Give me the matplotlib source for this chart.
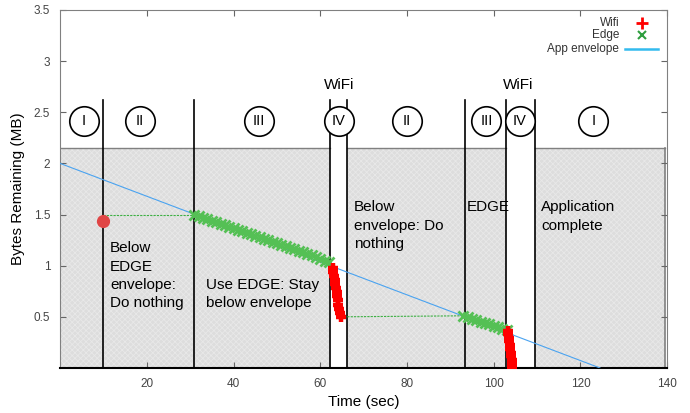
import matplotlib
matplotlib.use("Agg")
from matplotlib import pyplot as plt
from matplotlib.patches import Rectangle

plt.rcParams['font.family'] = ['Liberation Sans', 'DejaVu Sans']
plt.rcParams['hatch.color'] = '#e8e8e8'
plt.rcParams['hatch.linewidth'] = 0.6

# --- data ---
env_t = [0, 124.5]
env_mb = [2.0, 0.0]

edge1_t = [31, 32, 33, 34, 35, 36, 37, 38, 39, 40, 41, 42, 43, 44, 45, 46,
           47, 48, 49, 50, 51, 52, 53, 54, 55, 56, 57, 58, 59, 60, 61, 62]
edge1_mb = [1.50, 1.49, 1.47, 1.46, 1.44, 1.43, 1.41, 1.40, 1.38, 1.37, 1.35,
            1.34, 1.32, 1.31, 1.29, 1.28, 1.26, 1.25, 1.23, 1.22, 1.20, 1.19,
            1.17, 1.16, 1.14, 1.13, 1.11, 1.10, 1.08, 1.07, 1.05, 1.04]
edge2_t = [93, 94, 95, 96, 97, 98, 99, 100, 101, 102, 103]
edge2_mb = [0.51, 0.50, 0.48, 0.47, 0.45, 0.44, 0.43, 0.41, 0.40, 0.38, 0.37]

wifi1_t = [62.9, 63.0, 63.2, 63.3, 63.5, 63.6, 63.8, 63.9, 64.1, 64.2, 64.4, 64.5, 64.7]
wifi1_mb = [0.98, 0.94, 0.90, 0.86, 0.82, 0.78, 0.74, 0.70, 0.66, 0.62, 0.58, 0.54, 0.50]
wifi2_t = [103.3, 103.4, 103.5, 103.6, 103.7, 103.8, 103.9, 104.0, 104.1, 104.2, 104.3]
wifi2_mb = [0.36, 0.33, 0.29, 0.26, 0.22, 0.19, 0.15, 0.12, 0.08, 0.05, 0.01]

idle1_t = [10, 31]
idle1_mb = [1.5, 1.5]
idle2_t = [64.7, 93]
idle2_mb = [0.5, 0.51]

start_t = [10.0]
start_mb = [1.44]

zone_start = [0, 66.1, 109.4]
zone_end = [62.2, 102.8, 139.5]
zone_top = 2.15

phase_lines = [10, 31, 62.2, 66.1, 93.3, 102.8, 109.4]
line_top = 2.62

phase_x = [5.5, 18.4, 45.9, 64.3, 80, 98.3, 106, 123]
phase_names = ["I", "II", "III", "IV", "II", "III", "IV", "I"]
phase_y = 2.41

wifi_label_x = [64.3, 105.6]

notes = [
    (11.5, 1.24, "Below\nEDGE\nenvelope:\nDo nothing"),
    (33.6, 0.88, "Use EDGE: Stay\nbelow envelope"),
    (67.7, 1.64, "Below\nenvelope: Do\nnothing"),
    (93.8, 1.64, "EDGE"),
    (111.0, 1.64, "Application\ncomplete"),
]

fig = plt.figure(figsize=(6.9, 4.13), dpi=100)
ax = fig.add_axes([0.087, 0.109, 0.880, 0.867])

# shaded region
for s, e in zip(zone_start, zone_end):
    ax.add_patch(Rectangle((s, 0), e - s, zone_top, facecolor='#dddddd',
                           hatch='xxxxxx', lw=0, zorder=0.5))
    ax.plot([s, e], [zone_top, zone_top], color='#808080', lw=1, zorder=1)
ax.plot([zone_start[0]] * 2, [0, zone_top], color='#808080', lw=1.2, zorder=1)
ax.plot([zone_end[-1]] * 2, [0, zone_top], color='#808080', lw=1.2, zorder=1)

for x in phase_lines:
    ax.plot([x, x], [0, line_top], color='black', lw=1.2, zorder=2)

# data
ax.plot(env_t, env_mb, color='#4aa3f0', lw=0.8, zorder=3)
ax.plot(idle1_t, idle1_mb, color='#3cb043', lw=0.8, ls='--', dashes=(2, 1), zorder=3)
ax.plot(idle2_t, idle2_mb, color='#3cb043', lw=0.8, ls='--', dashes=(2, 1), zorder=3)
ax.plot(edge1_t, edge1_mb, ls='none', marker='x', ms=7, mew=2, color='#55c055', zorder=4)
ax.plot(edge2_t, edge2_mb, ls='none', marker='x', ms=7, mew=2, color='#55c055', zorder=4)
ax.plot(wifi1_t, wifi1_mb, ls='none', marker='+', ms=7, mew=3.2, color='#ff0000', zorder=5)
ax.plot(wifi2_t, wifi2_mb, ls='none', marker='+', ms=7, mew=3.2, color='#ff0000', zorder=5)
ax.plot(start_t, start_mb, ls='none', marker='o', ms=8.5, color='#e04545', zorder=5)

# phase circles
ax.scatter(phase_x, [phase_y] * len(phase_x), s=450, facecolor='white',
           edgecolor='black', lw=1.2, zorder=6)
for x, n in zip(phase_x, phase_names):
    ax.text(x, phase_y, n, ha='center', va='center', fontsize=10.5, zorder=7)
for x in wifi_label_x:
    ax.text(x, 2.77, "WiFi", ha='center', va='center', fontsize=11)

for x, y, t in notes:
    ax.text(x, y, t, ha='left', va='top', fontsize=11, linespacing=1.4, zorder=7)

# legend drawn gnuplot-style (text right-aligned, key on the right)
leg_y = [0.964, 0.930, 0.891]
ax.text(0.921, leg_y[0], "Wifi", transform=ax.transAxes, ha='right', va='center', fontsize=8.5, color='#333333')
ax.text(0.921, leg_y[1], "Edge", transform=ax.transAxes, ha='right', va='center', fontsize=8.5, color='#333333')
ax.text(0.921, leg_y[2], "App envelope", transform=ax.transAxes, ha='right', va='center', fontsize=8.5, color='#333333')
ax.plot([0.959], [leg_y[0]], transform=ax.transAxes, marker='+', ms=9, mew=2, color='#ff0000', clip_on=False)
ax.plot([0.959], [leg_y[1]], transform=ax.transAxes, marker='x', ms=6, mew=1.5, color='#2e9e3e', clip_on=False)
ax.plot([0.93, 0.985], [leg_y[2]] * 2, transform=ax.transAxes, lw=1.8, color='#33bbee', clip_on=False)

ax.set_xlim(0, 140)
ax.set_ylim(0, 3.5)
ax.set_xticks([20, 40, 60, 80, 100, 120, 140])
ax.set_yticks([0.5, 1, 1.5, 2, 2.5, 3, 3.5])
ax.set_yticklabels(["0.5", "1", "1.5", "2", "2.5", "3", "3.5"])
ax.tick_params(direction='in', top=True, right=True, length=4, width=0.8,
               labelsize=8.5, labelcolor='#444444', color='#666666', pad=7)
for side in ['left', 'top', 'right']:
    ax.spines[side].set_color('#808080')
ax.spines['bottom'].set_color('black')
ax.spines['bottom'].set_linewidth(1.5)

ax.set_xlabel("Time (sec)", fontsize=11, labelpad=4)
ax.set_ylabel("Bytes Remaining (MB)", fontsize=11, labelpad=6)

plt.savefig("out.png", dpi=100)
